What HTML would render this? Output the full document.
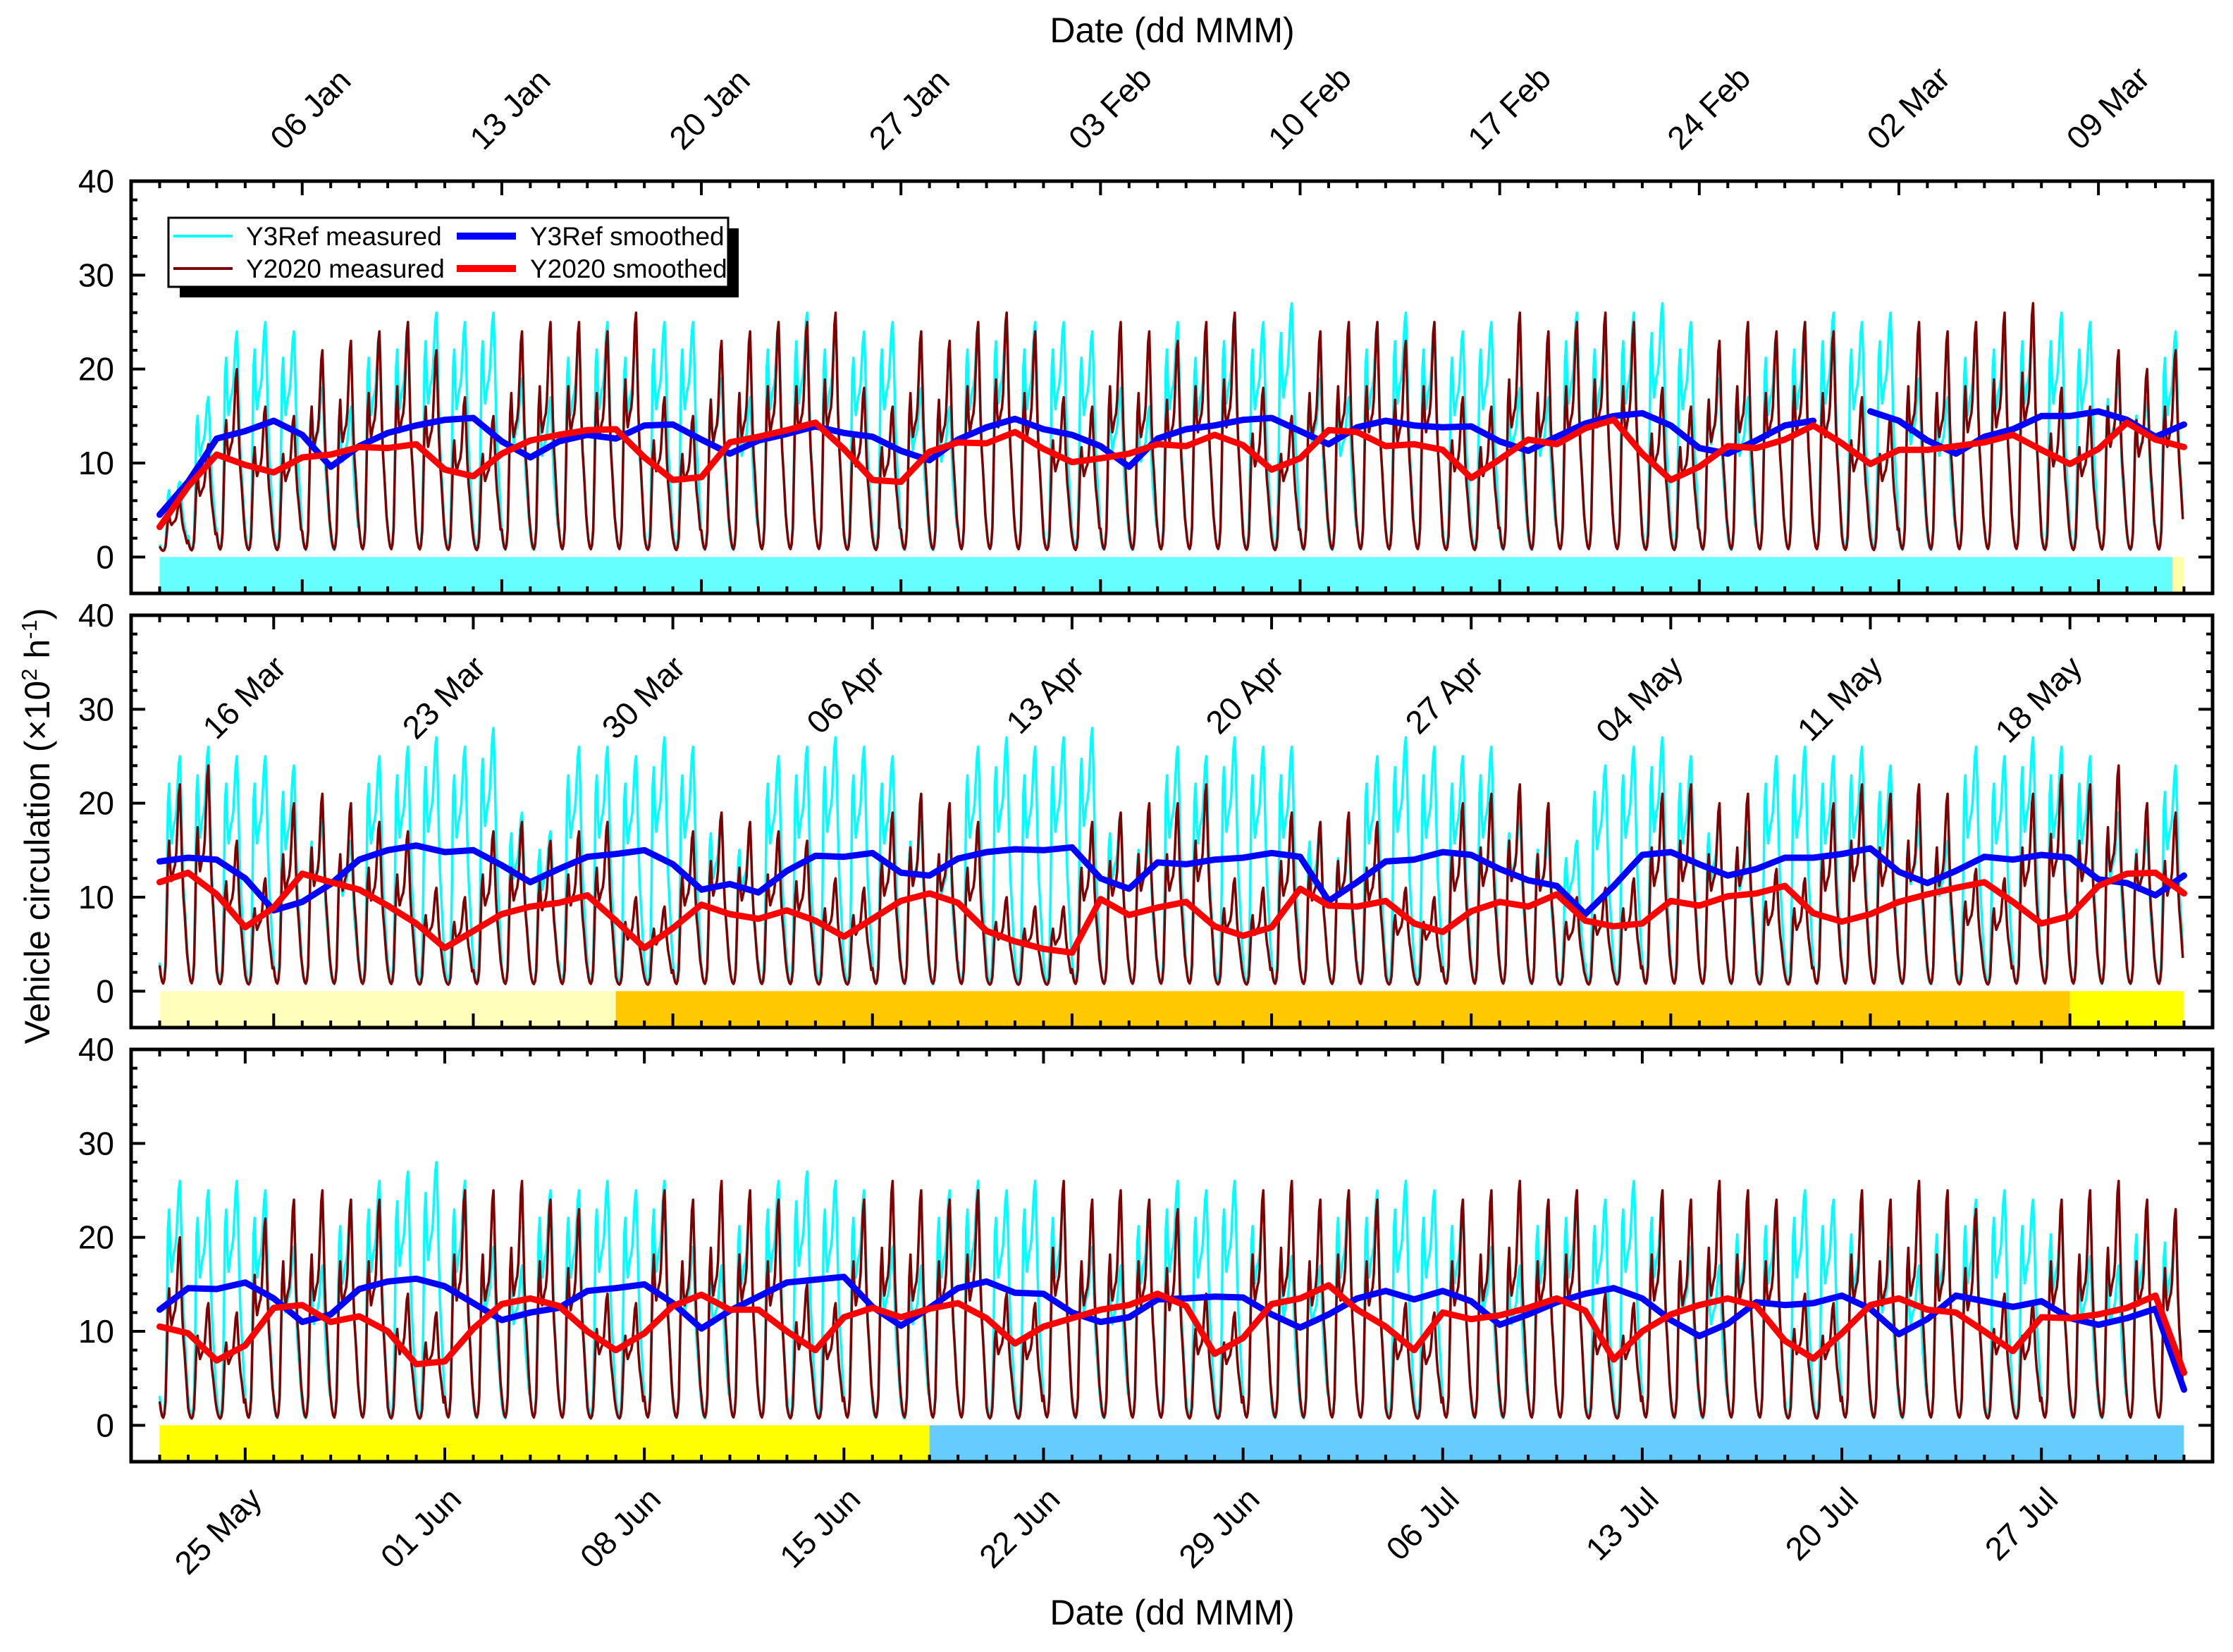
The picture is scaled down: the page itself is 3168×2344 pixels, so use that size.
<!DOCTYPE html>
<html><head><meta charset="utf-8"><title>Vehicle circulation chart</title>
<style>html,body{margin:0;padding:0;background:#fff}svg{display:block}text{font-family:"Liberation Sans",Arial,sans-serif;fill:#000}</style>
</head><body>
<svg id="chart" xmlns="http://www.w3.org/2000/svg" width="3168" height="2344" viewBox="0 0 3168 2344">
<rect x="0" y="0" width="3168" height="2344" fill="#fff"/>
<g id="bars"></g><g id="series"></g><g id="axes"></g><g id="labels"></g>
<text x="1663" y="60" font-size="50" text-anchor="middle">Date (dd MMM)</text>
<text x="1663" y="2305" font-size="50" text-anchor="middle">Date (dd MMM)</text>
<text transform="translate(70,1172) rotate(-90)" font-size="50" text-anchor="middle">Vehicle circulation (×10<tspan font-size="31" dy="-18">2</tspan><tspan dy="18"> h</tspan><tspan font-size="31" dy="-18">-1</tspan><tspan dy="18">)</tspan></text>
<g>
<rect x="255" y="324" width="793" height="98" fill="#000"/>
<rect x="239" y="309" width="794" height="98" fill="#fff" stroke="#000" stroke-width="3"/>
<line x1="246" y1="335" x2="330" y2="335" stroke="#00FFFF" stroke-width="4"/>
<text x="349" y="348" font-size="37">Y3Ref measured</text>
<line x1="246" y1="381" x2="330" y2="381" stroke="#800000" stroke-width="4"/>
<text x="349" y="394" font-size="37">Y2020 measured</text>
<line x1="648" y1="335" x2="732" y2="335" stroke="#0000FF" stroke-width="10"/>
<text x="752" y="348" font-size="37">Y3Ref smoothed</text>
<line x1="648" y1="381" x2="732" y2="381" stroke="#FF0000" stroke-width="10"/>
<text x="752" y="394" font-size="37">Y2020 smoothed</text>
</g>
</svg>
<script>
// ---- data ----
const hourProfileRef = [0.10,0.05,0.02,0.01,0.03,0.12,0.40,0.80,0.88,0.70,0.62,0.66,0.70,0.72,0.76,0.86,0.96,1.00,0.85,0.62,0.45,0.36,0.27,0.17];
const hourProfile2020 = [0.10,0.05,0.02,0.01,0.03,0.10,0.35,0.62,0.72,0.58,0.52,0.55,0.58,0.60,0.66,0.80,0.95,1.00,0.80,0.58,0.44,0.36,0.26,0.16];
const nightBase = 0.6;

const p1RefPeaks = [8,17,24,25,24,18,16, 24,25,26,25,26,19,17, 24,25,24,25,25,19,17, 25,26,25,24,25,18,16, 25,26,25,25,24,18,16, 25,24,26,25,27,19,17, 25,26,25,24,25,18,17, 26,25,26,27,25,19,17, 24,25,26,25,26,19,17, 24,25,26,26,25,19,17, 24];
const p1NowPeaks = [6,12,20,16,15,22,23, 24,25,22,17,15,24,25, 25,24,26,17,15,23,24, 25,25,26,18,16,24,23, 25,26,24,17,16,25,24, 23,25,26,18,15,24,25, 25,23,25,17,16,26,24, 25,26,25,18,16,23,25, 24,25,24,17,15,25,24, 25,26,27,18,16,22,20, 22];
const p2RefPeaks = [25,26,25,25,24,18,16, 25,26,27,26,28,19,17, 26,26,25,27,26,19,17, 25,26,27,26,25,18,16, 26,27,26,27,28,19,17, 26,25,27,26,26,18,16, 25,27,26,25,26,19,17, 16,24,26,27,25,19,17, 25,26,25,26,24,18,16, 26,25,27,26,25,19,17, 24];
const p2NowPeaks = [22,24,16,12,20,21,20, 18,17,11,10,17,18,16, 17,18,10,9,17,19,18, 17,16,12,11,19,21,20, 18,10,9,9,18,19,20, 20,22,12,11,19,18,19, 18,11,10,20,21,22,20, 10,11,12,21,22,20,21, 13,12,20,22,21,22,21, 13,12,21,23,22,24,20, 19];
const p3RefPeaks = [26,25,26,25,19,17,24, 26,27,28,26,19,17,25, 25,26,25,26,19,17,24, 26,27,26,25,19,17,25, 26,25,26,25,19,17,24, 26,25,26,24,18,17,25, 25,26,25,24,19,17,24, 25,24,26,25,19,17,23, 24,25,24,23,19,17,23, 24,25,24,23,18,17,23, 22];
const p3NowPeaks = [20,13,12,22,24,25,24, 24,14,12,25,25,26,24, 23,14,13,25,24,26,25, 24,15,13,24,26,25,24, 25,14,13,26,24,25,24, 23,14,12,25,26,24,25, 24,13,12,24,25,26,24, 25,14,13,25,24,26,25, 24,14,13,25,24,26,25, 23,14,13,24,25,26,24, 23];

const p1RefSmooth = [4.5,8,12.6,13.4,14.5,13,9.6,11.8,13.2,14,14.6,14.8,12.3,10.6,12.3,13,12.6,14,14.1,12.5,11,12.4,13.1,13.9,13.2,12.8,11.3,10.3,12.5,13.8,14.7,13.6,13,11.8,9.6,12.6,13.6,14,14.6,14.8,13.4,12,13.8,14.5,14,13.8,13.9,12.3,11.3,12.8,14.2,15,15.3,14,11.6,11,12.4,14,14.5,null,15.5,14.5,12.4,11,12.8,13.6,15,15,15.5,14.6,12.8,14.1];
const p1NowSmooth = [3.2,7.5,10.9,9.8,9,10.6,10.9,11.7,11.6,12,9.3,8.6,11,12.4,13,13.5,13.6,10.6,8.2,8.5,12.2,12.8,13.5,14.3,11.5,8.2,8,11.2,12.2,12.1,13.3,11.5,10.1,10.5,11,12,11.8,13,11.9,9.3,10.5,13.5,13.3,11.8,12,11.4,8.4,10.4,12.5,12,13.7,14.6,11,8.2,9.6,11.8,11.6,12.5,14,12.1,9.9,11.4,11.4,11.8,12.2,13,11.4,9.9,11.5,14.3,12.5,11.7];
const p2RefSmooth = [13.8,14.2,14,12,8.6,9.5,11.4,14,15,15.5,14.8,15,13.4,11.6,13,14.3,14.6,15,13.5,10.8,11.4,10.5,12.8,14.4,14.3,14.7,12.6,12.3,14.1,14.8,15.1,15,15.3,12,10.9,13.7,13.5,14,14.2,14.7,14.3,9.6,11.6,13.8,14,14.8,14.5,13,11.8,11.2,8.2,11.2,14.5,14.8,13.5,12.3,13,14.2,14.2,14.6,15.2,12.7,11.5,12.8,14.3,14,14.5,14.2,11.9,11.5,10.2,12.3];
const p2NowSmooth = [11.6,12.6,10.3,6.8,8.9,12.5,11.6,10.8,9.1,7.2,4.6,6.4,8.2,9,9.4,10.2,7.5,4.6,6.7,9.2,8.2,7.7,8.6,7.5,5.8,7.7,9.6,10.4,9.4,6.4,5.3,4.5,4.1,9.8,8.1,8.9,9.5,6.9,5.9,6.8,10.9,9.1,9,9.6,7.2,6.3,8.5,9.5,9,10.3,7.5,6.9,7.2,9.6,9.1,10.1,10.4,11.2,8.3,7.4,8.2,9.5,10.3,11,11.6,9.5,7.2,8,11.2,12.5,12.6,10.4];
const p3RefSmooth = [12.3,14.6,14.5,15.2,13.5,11,11.8,14.5,15.3,15.6,14.8,13,11.2,12,12.5,14.3,14.6,15,13,10.3,12.2,13.7,15.2,15.5,15.8,12.6,10.6,12.5,14.6,15.3,14.1,14,12,11,11.5,13.4,13.5,13.7,13.6,11.8,10.4,11.8,13.5,14.3,13.4,14.3,13.2,10.7,11.8,13.1,14,14.6,13.5,11.2,9.5,10.8,13.1,12.8,13,13.8,12.4,9.7,11.3,13.8,13.2,12.6,13.2,11.4,10.7,11.4,12.4,3.8];
const p3NowSmooth = [10.5,9.8,6.9,8.5,12.5,12.8,11,11.6,10,6.5,6.8,10.3,12.9,13.5,12.7,10,8,9.8,12.7,13.9,12.3,12.3,10,8,11.5,12.5,11.5,12.4,13,11.4,8.7,10.5,11.4,12.3,12.8,14,12.7,7.6,9.3,12.9,13.5,14.9,12.3,10.5,8,12,11.3,11.7,12.5,13.5,12.2,7,10,11.8,12.8,13.5,12.7,9,7.1,9.8,12.8,13.5,12.3,12,10,7.9,11.5,11.4,11.8,12.5,13.8,5.6];

const yTickValues = [0,10,20,30,40];
const p1TickDays = [5,12,19,26,33,40,47,54,61,68];
const p1TickLabels = ["06 Jan","13 Jan","20 Jan","27 Jan","03 Feb","10 Feb","17 Feb","24 Feb","02 Mar","09 Mar"];
const p2TickDays = [4,11,18,25,32,39,46,53,60,67];
const p2TickLabels = ["16 Mar","23 Mar","30 Mar","06 Apr","13 Apr","20 Apr","27 Apr","04 May","11 May","18 May"];
const p3TickDays = [3,10,17,24,31,38,45,52,59,66];
const p3TickLabels = ["25 May","01 Jun","08 Jun","15 Jun","22 Jun","29 Jun","06 Jul","13 Jul","20 Jul","27 Jul"];
const p1PeriodStarts = [0,70.6];
const p1PeriodEnds = [70.6,71];
const p1PeriodColors = ["#66FFFF","#FFFFAA"];
const p2PeriodStarts = [0,16,67];
const p2PeriodEnds = [16,67,71];
const p2PeriodColors = ["#FFFFBB","#FFC800","#FFFF00"];
const p3PeriodStarts = [0,27];
const p3PeriodEnds = [27,71];
const p3PeriodColors = ["#FFFF00","#66CCFF"];

// ---- layout ----
const NS = "http://www.w3.org/2000/svg";
const panelTops = [257,873,1489];
const panelH = 585, frameL = 186, frameR = 3139;
function X(d){ return 226.5 + 40.45*d; }
function Y(p,v){ return panelTops[p] + (40 - v)*13.333; }
function mk(tag, attrs, parent){ const e=document.createElementNS(NS,tag); for(const k in attrs) e.setAttribute(k,attrs[k]); parent.appendChild(e); return e; }

const bars = document.getElementById('bars');
const series = document.getElementById('series');
const axes = document.getElementById('axes');
const labels = document.getElementById('labels');

const panels = [
 {ref:p1RefPeaks, now:p1NowPeaks, rs:p1RefSmooth, ns:p1NowSmooth, td:p1TickDays, tl:p1TickLabels, ps:p1PeriodStarts, pe:p1PeriodEnds, pc:p1PeriodColors},
 {ref:p2RefPeaks, now:p2NowPeaks, rs:p2RefSmooth, ns:p2NowSmooth, td:p2TickDays, tl:p2TickLabels, ps:p2PeriodStarts, pe:p2PeriodEnds, pc:p2PeriodColors},
 {ref:p3RefPeaks, now:p3NowPeaks, rs:p3RefSmooth, ns:p3NowSmooth, td:p3TickDays, tl:p3TickLabels, ps:p3PeriodStarts, pe:p3PeriodEnds, pc:p3PeriodColors}
];

function measuredPath(p, peaks, prof){
  let d = "";
  for(let day=0; day<peaks.length; day++){
    for(let h=0; h<24; h++){
      const v = nightBase + (peaks[day]-nightBase)*prof[h];
      d += (d===""?"M":"L") + X(day+h/24).toFixed(1) + "," + Y(p,v).toFixed(1);
    }
  }
  return d;
}
function smoothPath(p, vals){
  let d = "", pen = false;
  for(let i=0;i<vals.length;i++){
    if(vals[i]===null){ pen=false; continue; }
    d += (pen?"L":"M") + X(i).toFixed(1) + "," + Y(p,vals[i]).toFixed(1);
    pen = true;
  }
  return d;
}

panels.forEach((P, p) => {
  const top = panelTops[p], bottom = top + panelH;
  for(let i=0;i<P.ps.length;i++){
    const r = mk('rect',{x:X(P.ps[i]), y:Y(p,0), width:X(P.pe[i])-X(P.ps[i]), height:bottom-Y(p,0), fill:P.pc[i]}, bars);
    
    
  }
  let e = mk('path',{d:measuredPath(p,P.ref,hourProfileRef), fill:'none', stroke:'#00FFFF', 'stroke-width':3.5, 'stroke-linejoin':'round'}, series);
  
  
  e = mk('path',{d:measuredPath(p,P.now,hourProfile2020), fill:'none', stroke:'#800000', 'stroke-width':3.5, 'stroke-linejoin':'round'}, series);
  
  
  e = mk('path',{d:smoothPath(p,P.rs), fill:'none', stroke:'#0000FF', 'stroke-width':9, 'stroke-linejoin':'round', 'stroke-linecap':'round'}, series);
  
  
  e = mk('path',{d:smoothPath(p,P.ns), fill:'none', stroke:'#FF0000', 'stroke-width':9, 'stroke-linejoin':'round', 'stroke-linecap':'round'}, series);
  
  
  e = mk('rect',{x:frameL, y:top, width:frameR-frameL, height:panelH, fill:'none', stroke:'#000', 'stroke-width':5}, axes);
  
  
  let tp = "";
  for(let v=0; v<=40; v+=2){
    const len = (v%10===0)?20:9, y = Y(p,v);
    tp += "M"+frameL+","+y+"h"+len+"M"+frameR+","+y+"h"+(-len);
  }
  for(let d=0; d<=71; d++){
    const len = P.td.indexOf(d)>=0 ? 20 : 10, x = X(d);
    tp += "M"+x+","+top+"v"+len+"M"+x+","+bottom+"v"+(-len);
  }
  e = mk('path',{d:tp, stroke:'#000', 'stroke-width':4, fill:'none'}, axes);
  
  
  yTickValues.forEach(v => {
    const t = mk('text',{x:162, y:Y(p,v)+16, 'font-size':46, 'text-anchor':'end'}, labels);
    t.textContent = v;
    
    
  });
  P.td.forEach((d,i) => {
    let t;
    if(p===0){
      const x = X(d)-26, y = 215;
      t = mk('text',{x:x, y:y, 'font-size':46, 'text-anchor':'start', transform:'rotate(-45 '+x+' '+y+')'}, labels);
    } else if(p===1){
      const x = X(d)+20, y = 950;
      t = mk('text',{x:x, y:y, 'font-size':46, 'text-anchor':'end', transform:'rotate(-45 '+x+' '+y+')'}, labels);
    } else {
      const x = X(d)+26, y = 2130;
      t = mk('text',{x:x, y:y, 'font-size':46, 'text-anchor':'end', transform:'rotate(-45 '+x+' '+y+')'}, labels);
    }
    t.textContent = P.tl[i];
    
    
  });
});
</script>
</body></html>
